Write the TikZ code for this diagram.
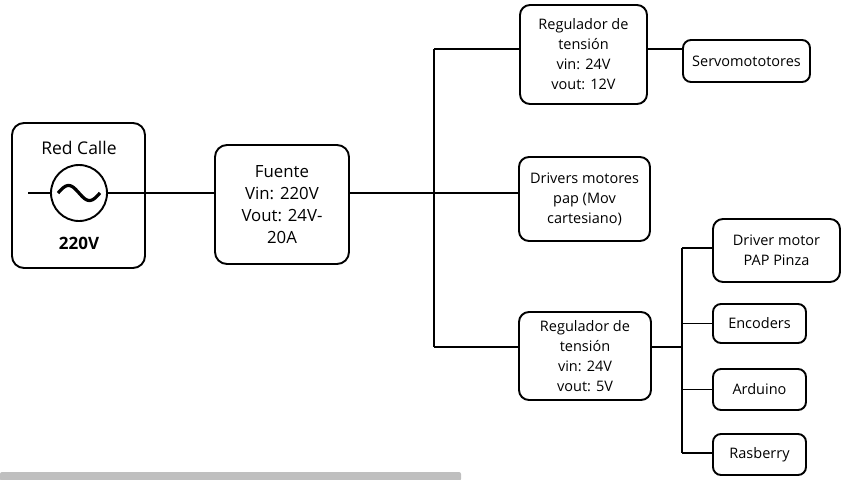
\documentclass[tikz,border=0pt]{standalone}
\usepackage{fontspec}
\setmainfont{Open Sans}
\usetikzlibrary{positioning}

\begin{document}
\begin{tikzpicture}[x=1pt, y=-1pt, line width=1.9pt,
  bigbox/.style={draw, rectangle, rounded corners=12pt, align=center, inner sep=0pt, font=\fontsize{16.8}{22}\selectfont},
  smallbox/.style={draw, rectangle, rounded corners=10pt, align=center, inner sep=0pt, font=\fontsize{14.5}{20}\selectfont}]
  \useasboundingbox (0,0) rectangle (858,479);

  % red calle
  \node (red) [bigbox, minimum width=133pt, minimum height=145pt] at (78.5,195.5) {};
  \node (redtxt) [font=\fontsize{17.5}{22}\selectfont] at (79,148) {Red Calle};
  \node (circ) [draw, circle, minimum size=56pt, inner sep=0pt] at (79,193) {};
  \draw [line width=3.2pt, domain=-21:21, samples=50] plot ({79+\x}, {193+7.5*sin(\x*8.6)});
  \node (volt) [font=\fontsize{17}{22}\selectfont\bfseries] at (79,243) {220V};

  \node (fuente) [bigbox, minimum width=134pt, minimum height=119pt] at (282,204.5)
    {Fuente\\Vin: 220V\\Vout: 24V-\\20A};

  % first level
  \node (reg12) [smallbox, minimum width=127pt, minimum height=99pt] at (583.5,54.5)
    {Regulador de\\tensión\\vin: 24V\\vout: 12V};
  \node (servo) [smallbox, rounded corners=8pt, minimum width=127pt, minimum height=42pt] at (746.5,61)
    {Servomototores};
  \node (drivers) [smallbox, minimum width=131pt, minimum height=84pt] at (584.5,199)
    {Drivers motores\\pap (Mov\\cartesiano)};
  \node (reg5) [smallbox, minimum width=132pt, minimum height=88pt] at (585,356)
    {Regulador de\\tensión\\vin: 24V\\vout: 5V};

  % second level
  \node (pap) [smallbox, minimum width=127pt, minimum height=63pt] at (776.5,250.5)
    {Driver motor\\PAP Pinza};
  \node (enc) [smallbox, rounded corners=8pt, minimum width=93pt, minimum height=39pt] at (759.5,323.5) {Encoders};
  \node (ard) [smallbox, rounded corners=8pt, minimum width=93pt, minimum height=41pt] at (759.5,389.5) {Arduino};
  \node (rasp) [smallbox, rounded corners=8pt, minimum width=93pt, minimum height=41pt] at (759.5,454.5) {Rasberry};

  \coordinate (wire) at (28,193);
  \coordinate (bustop) at (434,49);
  \coordinate (busbot) at (434,347);
  \coordinate (bustwotop) at (682,248);
  \coordinate (bustwobot) at (682,453);

  \draw (wire) -- (circ.west);
  \draw (circ.east) -- (circ.east -| fuente.west);
  \draw (circ.east -| fuente.east) -- (circ.east -| bustop);
  \draw (bustop) -- (busbot);
  \draw (bustop) -- (bustop -| reg12.west);
  \draw (bustop -| reg12.east) -- (bustop -| servo.west);
  \draw (circ.east -| bustop) -- (circ.east -| drivers.west);
  \draw (busbot) -- (busbot -| reg5.west);
  \draw (busbot -| reg5.east) -- (busbot -| bustwotop);
  \draw (bustwotop) -- (bustwobot);
  \draw (bustwotop) -- (bustwotop -| pap.west);
  \draw (enc.west -| bustwotop) -- (enc.west);
  \draw (ard.west -| bustwotop) -- (ard.west);
  \draw (bustwobot) -- (bustwobot -| rasp.west);

  \fill [gray!50, rounded corners=2pt] (0,472) rectangle (461,481);
\end{tikzpicture}
\end{document}
